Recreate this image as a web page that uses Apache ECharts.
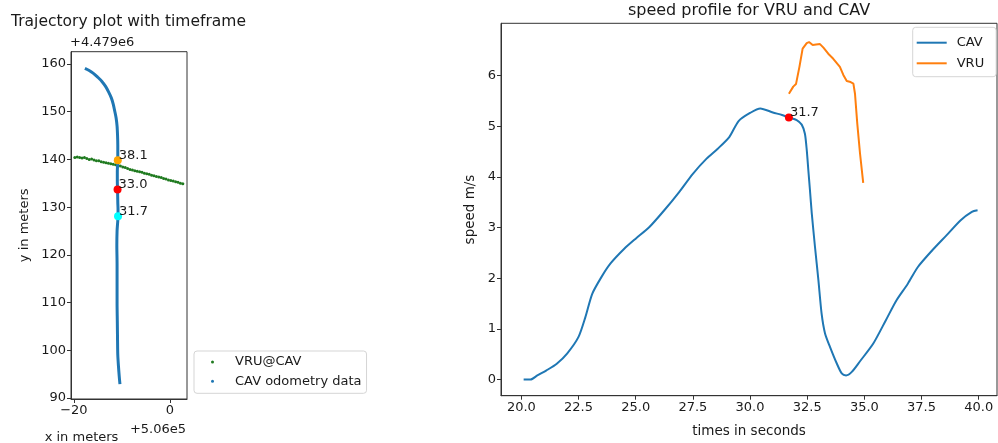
<!DOCTYPE html>
<html>
<head>
<meta charset="utf-8">
<script src="https://cdn.jsdelivr.net/npm/echarts@6/dist/echarts.min.js"></script>
<style>
html,body{margin:0;padding:0;background:#fff;}
#chart{width:998px;height:443px;}
</style>
</head>
<body>
<div id="chart"></div>
<script>
// ---------- Left: trajectory (offset x +5.06e5, y +4.479e6) ----------
const vruX = [-19.8,-19.3,-18.8,-18.3,-17.8,-17.3,-16.8,-16.3,-15.8,-15.3,-14.8,-14.3,-13.8,-13.3,-12.8,-12.3,-11.8,-11.3,-10.8,-10.3,-9.8,-9.3,-8.8,-8.3,-7.8,-7.3,-6.8,-6.3,-5.8,-5.3,-4.8,-4.3,-3.8,-3.3,-2.8,-2.3,-1.8,-1.3,-0.8,-0.3,0.2,0.7,1.2,1.7,2.2,2.7];
const vruY = [140.4,140.5,140.4,140.3,140.4,140.2,140.0,140.1,139.9,139.7,139.7,139.5,139.4,139.3,139.2,139.1,139.0,138.9,138.8,138.6,138.4,138.3,138.1,137.9,137.8,137.6,137.5,137.4,137.3,137.1,137.0,136.9,136.7,136.6,136.4,136.3,136.2,136.0,135.9,135.7,135.6,135.5,135.3,135.2,135.0,134.9];
const odoX = [-17.7,-16.9,-16.0,-15.1,-14.2,-13.4,-12.8,-12.2,-11.8,-11.5,-11.2,-11.0,-10.9,-10.85,-10.85,-10.85,-10.95,-10.95,-10.9,-10.85,-10.8,-10.8,-10.9,-11.0,-11.05,-11.0,-11.0,-11.0,-10.95,-10.9,-10.85,-10.7,-10.55,-10.4];
const odoY = [159.1,158.7,158.1,157.3,156.4,155.3,154.2,152.9,151.6,150.2,148.7,147.0,145.0,143.0,141.0,139.8,137.5,135.5,133.7,131.0,129.5,128.1,126.5,125.0,122.0,118.0,114.0,110.0,106.0,102.0,99.0,96.5,94.5,92.9];
const markX = [-10.85,-10.9,-10.8];
const markY = [139.8,133.7,128.1];
const markLabels = ['38.1','33.0','31.7'];
const leftXTicks = [-20, 0];
const leftYTicks = [90,100,110,120,130,140,150,160];

// ---------- Right: speed profile ----------
const cavT = [20.1,20.4,20.7,21.1,21.55,22.0,22.5,22.8,23.1,23.5,23.9,24.5,25.0,25.6,26.25,26.9,27.5,28.1,28.6,29.1,29.5,30.0,30.45,31.0,31.4,31.7,32.04,32.26,32.40,32.48,32.55,32.62,32.70,32.84,32.99,33.13,33.28,33.50,33.79,34.01,34.20,34.45,34.81,35.39,35.94,36.4,36.9,37.34,37.97,38.6,39.2,39.7,39.95];
const cavV = [0.0,0.0,0.08,0.18,0.31,0.51,0.84,1.23,1.69,2.02,2.29,2.58,2.78,3.01,3.34,3.70,4.06,4.36,4.56,4.79,5.10,5.26,5.35,5.27,5.22,5.17,5.12,5.03,4.85,4.53,4.13,3.74,3.28,2.62,1.96,1.30,0.91,0.64,0.32,0.12,0.08,0.15,0.36,0.71,1.17,1.56,1.89,2.22,2.55,2.85,3.14,3.31,3.34];
const vruT = [31.70,31.89,32.01,32.16,32.30,32.48,32.58,32.74,32.89,33.06,33.21,33.42,33.64,33.93,34.08,34.23,34.40,34.52,34.59,34.69,34.81,34.95];
const vruV = [5.64,5.78,5.83,6.17,6.53,6.64,6.66,6.60,6.61,6.62,6.55,6.43,6.33,6.17,6.01,5.89,5.87,5.84,5.64,5.05,4.46,3.88];
const hitT = [31.7];
const hitV = [5.17];
const hitLabels = ['31.7'];
const rightXTicks = [20,22.5,25,27.5,30,32.5,35,37.5,40];
const rightYTicks = [0,1,2,3,4,5,6];

// ---------- styles ----------
const FONT = 'DejaVu Sans';
const INK = '#1a1a1a';
const AX = '#333';
const markColors = ['#ffa500','#ff0000','#00ffff'];

function zip(a,b){ return a.map((v,i)=>[v,b[i]]); }

function valueAxis(gi, min, max, ticks, fmt){
  return {
    type:'value', gridIndex:gi, min:min, max:max, scale:true,
    axisLine:{show:true, onZero:false, lineStyle:{color:AX, width:1}},
    axisTick:{show:true, length:4, lineStyle:{color:AX}, customValues:ticks},
    axisLabel:{color:INK, fontFamily:FONT, fontSize:13, margin:5, customValues:ticks, formatter:fmt},
    splitLine:{show:false}
  };
}

const chart = echarts.init(document.getElementById('chart'), null, {renderer:'canvas'});
chart.setOption({
  animation:false,
  backgroundColor:'#fff',
  grid:[
    {left:71, top:51.7, width:116, height:347.3, show:true, borderColor:AX, borderWidth:1, backgroundColor:'transparent'},
    {left:501, top:23.3, width:496, height:372.4, show:true, borderColor:AX, borderWidth:1, backgroundColor:'transparent'}
  ],
  xAxis:[
    valueAxis(0, -20.6, 3.57, leftXTicks, v=>v<0?'\u2212'+Math.abs(v):String(v)),
    valueAxis(1, 19.11, 40.8, rightXTicks, v=>v.toFixed(1))
  ],
  yAxis:[
    valueAxis(0, 89.78, 162.58, leftYTicks, v=>String(v)),
    valueAxis(1, -0.32, 7.03, rightYTicks, v=>String(v))
  ],
  legend:[
    {
      left:194, top:351, orient:'vertical',
      padding:[4,5,5,17], itemGap:5.3, itemWidth:3, itemHeight:3,
      borderColor:'#d5d5d5', borderWidth:1, borderRadius:3,
      textStyle:{fontFamily:FONT, fontSize:13, color:INK, lineHeight:14, padding:[0,0,0,16]},
      data:[{name:'VRU@CAV', icon:'circle'},{name:'CAV odometry data', icon:'circle'}]
    },
    {
      left:912.7, top:27.3, orient:'vertical',
      padding:[8.4,12,6.4,4], itemGap:6.6, itemWidth:30, itemHeight:2,
      borderColor:'#d5d5d5', borderWidth:1, borderRadius:3,
      textStyle:{fontFamily:FONT, fontSize:13, color:INK, lineHeight:14, padding:[0,0,0,5]},
      data:[{name:'CAV', icon:'rect'},{name:'VRU', icon:'rect'}]
    }
  ],
  graphic:[
    {type:'text', style:{x:128.5, y:22, text:'Trajectory plot with timeframe', font:'15.5px "DejaVu Sans"', fill:INK, textAlign:'center', textVerticalAlign:'middle'}},
    {type:'text', style:{x:70, y:43, text:'+4.479e6', font:'13px "DejaVu Sans"', fill:INK, textAlign:'left', textVerticalAlign:'middle'}},
    {type:'text', style:{x:186, y:430, text:'+5.06e5', font:'13px "DejaVu Sans"', fill:INK, textAlign:'right', textVerticalAlign:'middle'}},
    {type:'text', style:{x:81.5, y:438, text:'x in meters', font:'13px "DejaVu Sans"', fill:INK, textAlign:'center', textVerticalAlign:'middle'}},
    {type:'text', x:25, y:225.3, rotation:Math.PI/2, style:{x:0, y:0, text:'y in meters', font:'13px "DejaVu Sans"', fill:INK, textAlign:'center', textVerticalAlign:'middle'}},
    {type:'text', style:{x:749, y:11, text:'speed profile for VRU and CAV', font:'16px "DejaVu Sans"', fill:INK, textAlign:'center', textVerticalAlign:'middle'}},
    {type:'text', style:{x:749, y:431, text:'times in seconds', font:'13.5px "DejaVu Sans"', fill:INK, textAlign:'center', textVerticalAlign:'middle'}},
    {type:'text', x:470, y:209.5, rotation:Math.PI/2, style:{x:0, y:0, text:'speed m/s', font:'13.5px "DejaVu Sans"', fill:INK, textAlign:'center', textVerticalAlign:'middle'}}
  ],
  series:[
    {
      name:'VRU@CAV', type:'scatter', xAxisIndex:0, yAxisIndex:0,
      data:zip(vruX, vruY), symbolSize:3, itemStyle:{color:'#1f7a1f', opacity:1}, z:2
    },
    {
      name:'CAV odometry data', type:'line', xAxisIndex:0, yAxisIndex:0,
      data:zip(odoX, odoY), symbol:'none', smooth:0.3,
      lineStyle:{color:'#1f77b4', width:3}, itemStyle:{color:'#1f77b4'}, z:3
    },
    {
      name:'marks', type:'scatter', xAxisIndex:0, yAxisIndex:0, symbolSize:8, z:5,
      data:markX.map((x,i)=>({value:[x, markY[i]], itemStyle:{color:markColors[i], opacity:1}, label:{formatter:markLabels[i]}})),
      label:{show:true, position:[5,-1], align:'left', verticalAlign:'middle', fontFamily:FONT, fontSize:13, color:INK}
    },
    {
      name:'CAV', type:'line', xAxisIndex:1, yAxisIndex:1,
      data:zip(cavT, cavV), symbol:'none', smooth:0.25,
      lineStyle:{color:'#1f77b4', width:2}, itemStyle:{color:'#1f77b4'}, z:3
    },
    {
      name:'VRU', type:'line', xAxisIndex:1, yAxisIndex:1,
      data:zip(vruT, vruV), symbol:'none',
      lineStyle:{color:'#ff7f0e', width:2}, itemStyle:{color:'#ff7f0e'}, z:3
    },
    {
      name:'hit', type:'scatter', xAxisIndex:1, yAxisIndex:1, symbolSize:8, z:5,
      data:hitT.map((t,i)=>({value:[t, hitV[i]], label:{formatter:hitLabels[i]}})),
      itemStyle:{color:'#ff0000', opacity:1},
      label:{show:true, position:[5,-1], align:'left', verticalAlign:'middle', fontFamily:FONT, fontSize:13, color:INK}
    }
  ]
});
</script>
</body>
</html>
